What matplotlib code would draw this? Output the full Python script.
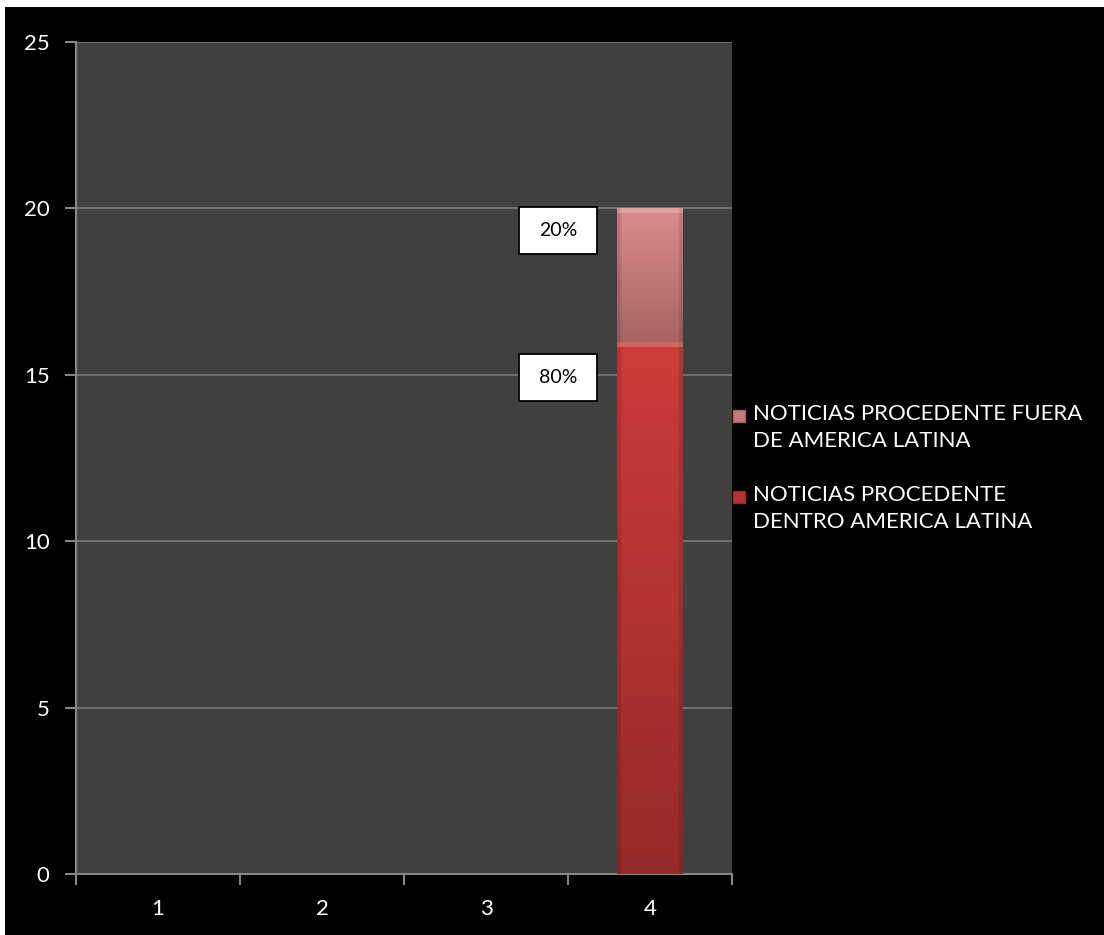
import matplotlib.pyplot as plt
import matplotlib.patches as patches
import matplotlib.transforms as mtransforms
import matplotlib.colors as mcolors
import numpy as np

# data
categories = ['1', '2', '3', '4']
dentro = [0, 0, 0, 16]
fuera = [0, 0, 0, 4]
pct_dentro = ['', '', '', '80%']
pct_fuera = ['', '', '', '20%']
series_names = ['NOTICIAS PROCEDENTE FUERA\nDE AMERICA LATINA',
                'NOTICIAS PROCEDENTE\nDENTRO AMERICA LATINA']
series_colors = ['#c87a7a', '#b83434']
y_ticks = [0, 5, 10, 15, 20, 25]

plt.rcParams['font.family'] = ['Lato', 'DejaVu Sans']

W, H = 1104, 935
fig = plt.figure(figsize=(W / 100, H / 100), dpi=100, facecolor='white')
# black background with thin white margin top/left
fig.patches.append(patches.Rectangle((5 / W, 0), 1 - 5 / W, 1 - 7 / H,
                                     transform=fig.transFigure,
                                     facecolor='black', edgecolor='none', zorder=-10))

ax = fig.add_axes([76 / W, 1 - 874 / H, (732 - 76) / W, (874 - 42) / H])
ax.set_facecolor('#404040')

x = np.arange(len(categories))
axis_col = '#868686'
bw = 0.4

bars_d = ax.bar(x, dentro, bw, color='#b83434', zorder=3)
bars_f = ax.bar(x, fuera, bw, bottom=dentro, color='#c87a7a', zorder=3)


def gradient(bar, top_col, bot_col):
    h = bar.get_height()
    if h <= 0:
        return
    x0, y0, w = bar.get_x(), bar.get_y(), bar.get_width()
    c1 = np.array(mcolors.to_rgb(top_col))
    c2 = np.array(mcolors.to_rgb(bot_col))
    t = np.linspace(0, 1, 64)[:, None]
    col = c1 * (1 - t) + c2 * t
    # darker side edges
    s = np.linspace(0, 1, 32)
    shade = 1 - 0.12 * (np.abs(s - 0.5) > 0.44)
    img = col[:, None, :] * shade[None, :, None]
    im = ax.imshow(img, extent=(x0, x0 + w, y0, y0 + h), aspect='auto',
                   zorder=3.5, interpolation='bilinear')
    im.set_clip_path(bar)
    # bevel highlight at top
    ax.add_patch(patches.Rectangle((x0, y0 + h - 0.15), w, 0.15,
                                   facecolor='white', alpha=0.2,
                                   edgecolor='none', zorder=4))


for b in bars_d:
    gradient(b, '#cc3c3a', '#962a2a')
for b in bars_f:
    gradient(b, '#dc8c8c', '#a86464')


def pct_box(xc, yc, label):
    # fixed-size white box (78x47 px) centred on a data point
    off = mtransforms.ScaledTranslation(xc, yc, ax.transData)
    tr = fig.dpi_scale_trans + off
    ax.add_patch(patches.Rectangle((-0.39, -0.235), 0.78, 0.47, transform=tr,
                                   facecolor='white', edgecolor='black',
                                   linewidth=1.3, zorder=6, clip_on=False))
    ax.text(xc, yc, label, ha='center', va='center', fontsize=14,
            color='black', zorder=7)


for i in range(len(categories)):
    if pct_fuera[i]:
        pct_box(x[i] - 0.56, dentro[i] + fuera[i] - 0.66, pct_fuera[i])
    if pct_dentro[i]:
        pct_box(x[i] - 0.56, dentro[i] - 1.07, pct_dentro[i])

ax.set_xlim(-0.5, len(categories) - 0.5)
ax.set_ylim(0, 25)
ax.set_yticks(y_ticks)
ax.yaxis.grid(True, color='#7a7a7a', linewidth=1.2, zorder=1)
ax.set_axisbelow(True)

ax.set_xticks(x)
ax.set_xticklabels(categories)
ax.set_xticks(np.arange(-0.5, len(categories)), minor=True)
ax.tick_params(axis='x', which='major', length=0, pad=18, labelsize=16, colors='white')
ax.tick_params(axis='x', which='minor', length=8, width=1.5, color=axis_col, direction='out')
ax.tick_params(axis='y', length=8, width=1.5, color=axis_col, pad=11,
               labelsize=16, labelcolor='white')

for s in ['top', 'right']:
    ax.spines[s].set_visible(False)
for s in ['left', 'bottom']:
    ax.spines[s].set_color(axis_col)
    ax.spines[s].set_linewidth(1.5)

# legend: marker aligned with the first line of each label
leg_y = [416, 497]
for name, col, yy in zip(series_names, series_colors, leg_y):
    fig.patches.append(patches.Rectangle((733 / W, 1 - (yy + 6) / H), 12 / W, 12 / H,
                                         transform=fig.transFigure, facecolor=col,
                                         edgecolor=mcolors.to_hex(np.array(mcolors.to_rgb(col)) * 0.8),
                                         linewidth=1))
    fig.text(753 / W, 1 - (yy - 12) / H, name, ha='left', va='top', fontsize=16,
             color='white', linespacing=1.45)

fig.savefig('out.png', dpi=100, facecolor=fig.get_facecolor())
